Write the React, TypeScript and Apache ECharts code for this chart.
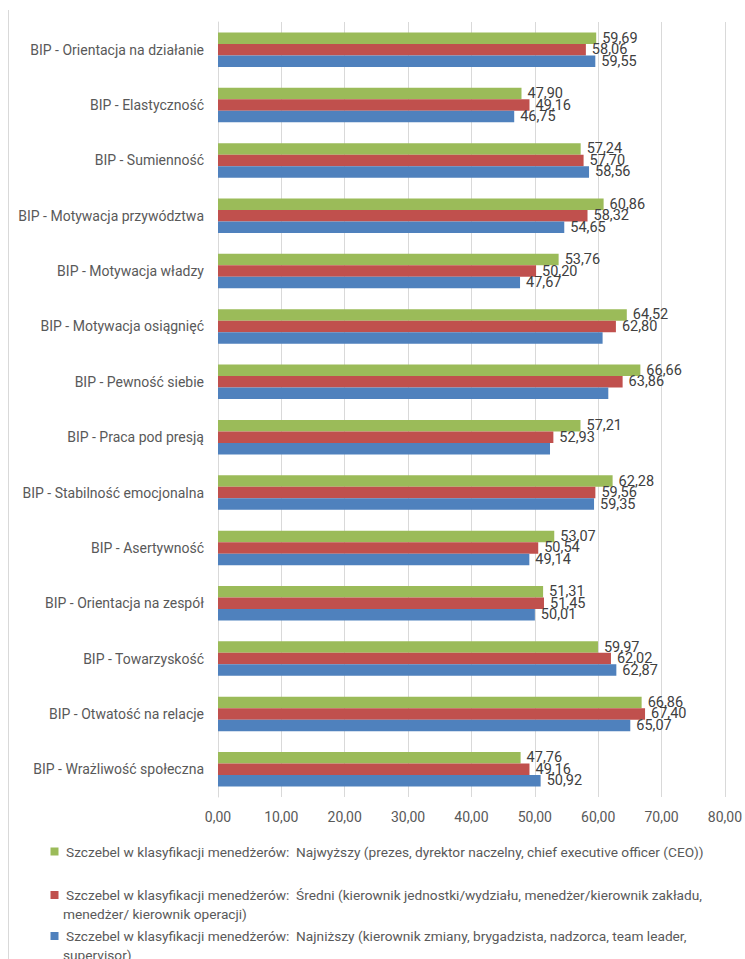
import React, { useEffect, useRef } from "react";
import * as echarts from "echarts";

// Competence scales (top to bottom)
const categories = [
  "BIP - Orientacja na działanie",
  "BIP - Elastyczność",
  "BIP - Sumienność",
  "BIP - Motywacja przywództwa",
  "BIP - Motywacja władzy",
  "BIP - Motywacja osiągnięć",
  "BIP - Pewność siebie",
  "BIP - Praca pod presją",
  "BIP - Stabilność emocjonalna",
  "BIP - Asertywność",
  "BIP - Orientacja na zespół",
  "BIP - Towarzyskość",
  "BIP - Otwatość na relacje",
  "BIP - Wrażliwość społeczna",
];

const topLevel = [59.69, 47.9, 57.24, 60.86, 53.76, 64.52, 66.66, 57.21, 62.28, 53.07, 51.31, 59.97, 66.86, 47.76];
const middleLevel = [58.06, 49.16, 57.7, 58.32, 50.2, 62.8, 63.86, 52.93, 59.56, 50.54, 51.45, 62.02, 67.4, 49.16];
const lowestLevel = [59.55, 46.75, 58.56, 54.65, 47.67, 60.7, 61.6, 52.4, 59.35, 49.14, 50.01, 62.87, 65.07, 50.92];

// Bars of the lowest level whose value label is not printed
const unlabeledLowest = ["BIP - Motywacja osiągnięć", "BIP - Pewność siebie", "BIP - Praca pod presją"];

const xTicks = { min: 0, max: 80, interval: 10 };

const seriesNames = [
  "Szczebel w klasyfikacji menedżerów:  Najwyższy (prezes, dyrektor naczelny, chief executive officer (CEO))",
  "Szczebel w klasyfikacji menedżerów:  Średni (kierownik jednostki/wydziału, menedżer/kierownik zakładu, menedżer/ kierownik operacji)",
  "Szczebel w klasyfikacji menedżerów:  Najniższy (kierownik zmiany, brygadzista, nadzorca, team leader, supervisor)",
];
// Legend texts as they wrap on screen
const legendLines = [
  ["Szczebel w klasyfikacji menedżerów:  Najwyższy (prezes, dyrektor naczelny, chief executive officer (CEO))"],
  [
    "Szczebel w klasyfikacji menedżerów:  Średni (kierownik jednostki/wydziału, menedżer/kierownik zakładu,",
    "menedżer/ kierownik operacji)",
  ],
  [
    "Szczebel w klasyfikacji menedżerów:  Najniższy (kierownik zmiany, brygadzista, nadzorca, team leader,",
    "supervisor)",
  ],
];

const colors = ["#9BBB59", "#C0504D", "#4F81BD"];
const FONT = "Roboto, 'Noto Sans', sans-serif";

const fmt = (v: number) => v.toFixed(2).replace(".", ",");

export default function App() {
  const ref = useRef<HTMLDivElement>(null);

  useEffect(() => {
    document.body.style.margin = "0";
    if (!ref.current) return;
    const chart = echarts.init(ref.current, undefined, { renderer: "svg" });

    const valueLabel = {
      show: true,
      position: "right" as const,
      distance: 6,
      color: "#404040",
      fontSize: 14.5,
      fontFamily: FONT,
      formatter: (p: any) => fmt(p.value),
    };

    const makeSeries = (idx: number, values: number[], hidden: string[] = []) => ({
      name: seriesNames[idx],
      type: "bar" as const,
      barWidth: 11.5,
      barGap: "0%",
      itemStyle: { color: colors[idx] },
      label: valueLabel,
      data: values.map((v, i) =>
        hidden.includes(categories[i]) ? { value: v, label: { show: false } } : v
      ),
    });

    // Legend drawn as wrapped text blocks; centre line of each entry's first row
    const legendY = [851.5, 895, 936];
    const lineGap = 19;
    const legendGraphics: any[] = [];
    legendLines.forEach((lines, i) => {
      legendGraphics.push({
        type: "rect",
        shape: { x: 50.5, y: legendY[i] - 4, width: 8, height: 8 },
        style: { fill: colors[i] },
      });
      lines.forEach((line, j) => {
        legendGraphics.push({
          type: "text",
          x: j === 0 ? 66 : 63,
          y: legendY[i] + j * lineGap,
          style: {
            text: line,
            fill: "#595959",
            fontSize: 13.7,
            fontFamily: FONT,
            verticalAlign: "middle",
          },
        });
      });
    });

    chart.setOption({
      animation: false,
      backgroundColor: "#ffffff",
      grid: { left: 218, right: 20, top: 22, bottom: 162, containLabel: false },
      xAxis: {
        type: "value",
        min: xTicks.min,
        max: xTicks.max,
        interval: xTicks.interval,
        axisLine: { show: false },
        axisTick: { show: false },
        splitLine: { show: true, lineStyle: { color: "#D9D9D9", width: 1 } },
        axisLabel: {
          color: "#595959",
          fontSize: 14,
          fontFamily: FONT,
          margin: 13,
          formatter: (v: number) => fmt(v),
        },
      },
      yAxis: {
        type: "category",
        inverse: true,
        data: categories,
        axisLine: { show: true, lineStyle: { color: "#D9D9D9" } },
        axisTick: { show: false },
        axisLabel: { color: "#595959", fontSize: 14, fontFamily: FONT, margin: 14 },
      },
      series: [
        makeSeries(0, topLevel),
        makeSeries(1, middleLevel),
        makeSeries(2, lowestLevel, unlabeledLowest),
      ],
      graphic: [
        {
          type: "line",
          shape: { x1: 8.5, y1: 10, x2: 8.5, y2: 959 },
          style: { stroke: "#D9D9D9", lineWidth: 1 },
        },
        ...legendGraphics,
      ],
    });

    return () => chart.dispose();
  }, []);

  return <div ref={ref} style={{ width: 745, height: 959 }} />;
}
